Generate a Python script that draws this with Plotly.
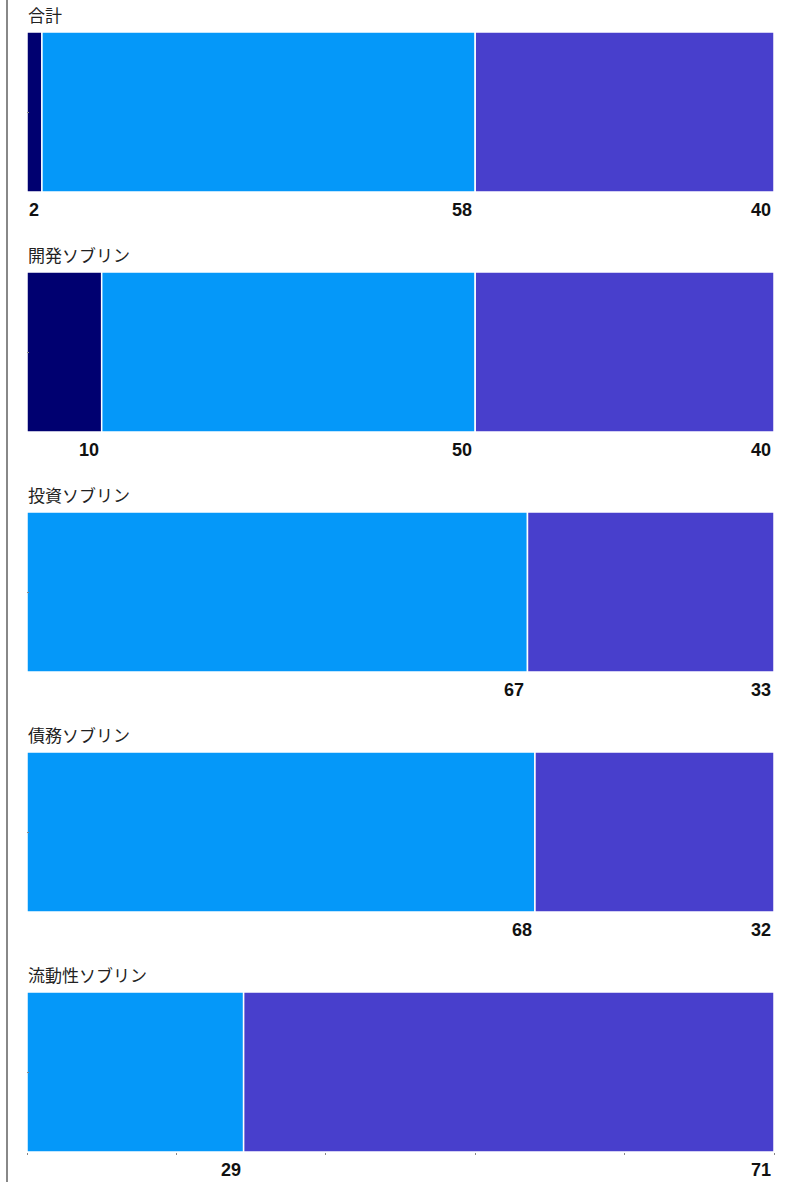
import plotly.graph_objects as go

categories = ["合計", "開発ソブリン", "投資ソブリン", "債務ソブリン", "流動性ソブリン"]
series_dev = [2, 10, 0, 0, 0]
series_mid = [58, 50, 67, 68, 29]
series_last = [40, 40, 33, 32, 71]
colors = ["#000070", "#0598F9", "#483FCC"]

W, H = 786, 1182
L, R = 27, 12
fig = go.Figure()
annotations = []
n = len(categories)
for k in range(n):
    top_px = 32 + 240 * k
    bot_px = 192 + 240 * k
    dom = [1 - bot_px / H, 1 - top_px / H]
    ax = "" if k == 0 else str(k + 1)
    vals = [series_dev[k], series_mid[k], series_last[k]]
    cum = 0
    for i, v in enumerate(vals):
        if v == 0:
            continue
        fig.add_trace(go.Bar(
            x=[v], y=[0], orientation="h", base=cum,
            marker=dict(color=colors[i], line=dict(color="white", width=1.5)),
            width=1, xaxis="x" + ax, yaxis="y" + ax, showlegend=False,
            hoverinfo="skip"))
        cum += v
        annotations.append(dict(
            x=cum, xref="x" + ax, y=dom[0], yref="paper",
            text=f"<b>{v}</b>", showarrow=False, xanchor="right", yanchor="top",
            xshift=-1, yshift=-6,
            font=dict(family="Liberation Sans, Arial", size=18, color="#111111")))
    annotations.append(dict(
        x=0, xref="paper", y=dom[1], yref="paper", text=categories[k],
        showarrow=False, xanchor="left", yanchor="bottom", yshift=3, xshift=-1,
        font=dict(family="Noto Sans CJK JP", size=17, color="#222222")))
    fig.layout["xaxis" + ax] = dict(
        domain=[0, 1], range=[0, 100], anchor="y" + ax, showgrid=False,
        zeroline=False, showticklabels=False, showline=False,
        ticks="outside" if k == n - 1 else "", ticklen=2, tickcolor="#888888",
        dtick=20, fixedrange=True)
    fig.layout["yaxis" + ax] = dict(
        domain=dom, range=[-0.5, 0.5], anchor="x" + ax, showgrid=False,
        zeroline=False, showticklabels=False, showline=False,
        ticks="inside", ticklen=2, tickcolor="#888888", tickvals=[0],
        fixedrange=True)

fig.update_layout(
    width=W, height=H, barmode="overlay",
    margin=dict(l=L, r=R, t=0, b=0),
    paper_bgcolor="white", plot_bgcolor="white",
    annotations=annotations,
    shapes=[dict(type="line", xref="paper", yref="paper",
                 x0=-20 / (W - L - R), x1=-20 / (W - L - R), y0=0, y1=1,
                 line=dict(color="#888888", width=2))],
)
fig.write_html("out.html")
